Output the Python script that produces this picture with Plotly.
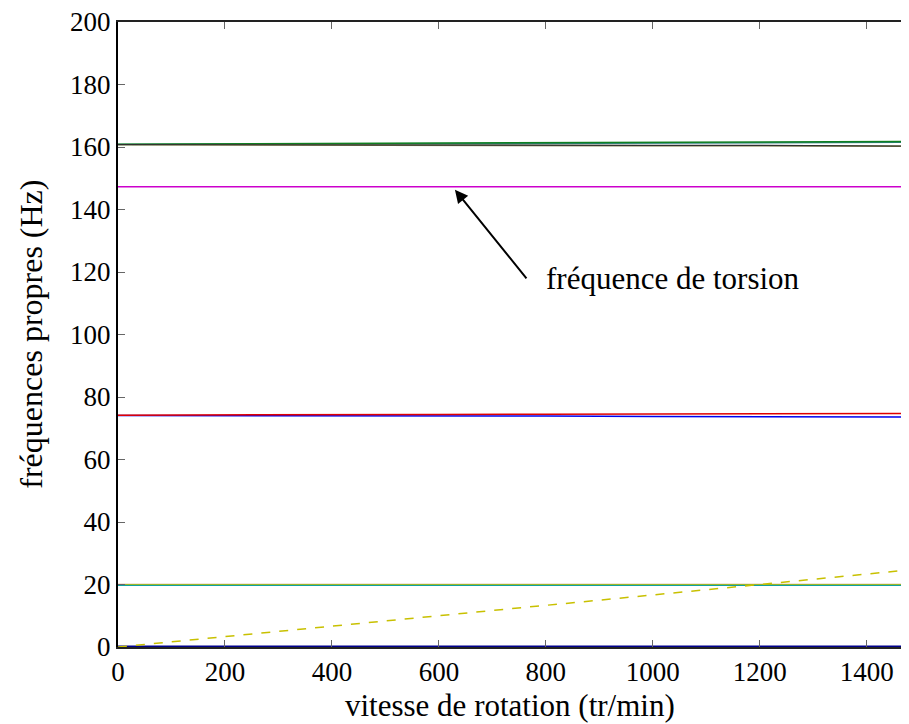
import plotly.graph_objects as go

# rotation speed (tr/min)
speed = [0, 200, 400, 600, 800, 1000, 1200, 1400, 1480]

# natural frequencies (Hz)
f_green_161 = [160.9, 161.0, 161.1, 161.3, 161.4, 161.5, 161.6, 161.7, 161.8]
f_teal_161 = [160.8, 160.9, 161.0, 161.1, 161.2, 161.3, 161.4, 161.5, 161.5]
f_dark_160 = [160.8, 160.7, 160.7, 160.6, 160.6, 160.5, 160.5, 160.4, 160.3]
f_olive_160 = [160.7, 160.6, 160.6, 160.5, 160.5, 160.4, 160.4, 160.3, 160.2]
f_torsion = [147.3, 147.3, 147.3, 147.3, 147.3, 147.3, 147.3, 147.3, 147.3]
f_red_74 = [74.2, 74.2, 74.3, 74.4, 74.5, 74.5, 74.6, 74.7, 74.7]
f_blue_74 = [74.1, 74.1, 74.0, 73.9, 73.9, 73.8, 73.7, 73.7, 73.6]
f_tan_20 = [20.0, 20.0, 20.0, 20.0, 20.0, 20.0, 20.0, 20.0, 20.0]
f_yellow_20 = [19.9, 19.9, 19.9, 19.9, 19.9, 19.9, 19.9, 19.9, 19.9]
f_teal_20 = [19.7, 19.7, 19.7, 19.7, 19.7, 19.7, 19.7, 19.7, 19.7]
f_zero = [0, 0, 0, 0, 0, 0, 0, 0, 0]

# rotation frequency line (dashed)
rot_speed = [0, 1480]
rot_freq = [0, 24.67]

x_ticks = [0, 200, 400, 600, 800, 1000, 1200, 1400]
y_ticks = [0, 20, 40, 60, 80, 100, 120, 140, 160, 180, 200]

series = [
    (f_teal_161, "#2a8080", 1.5),
    (f_green_161, "#108020", 1.5),
    (f_olive_160, "#7a7a45", 1.5),
    (f_dark_160, "#303030", 1.2),
    (f_torsion, "#cc00cc", 1.5),
    (f_blue_74, "#0000ee", 1.5),
    (f_red_74, "#e00000", 1.5),
    (f_tan_20, "#d09a70", 1.5),
    (f_yellow_20, "#c8c000", 1.5),
    (f_teal_20, "#10a0a0", 1.2),
    (f_zero, "#00008b", 3),
]

FONT = "Liberation Serif"

fig = go.Figure()
for ys, col, w in series:
    fig.add_trace(go.Scatter(x=speed, y=ys, mode="lines",
                             line=dict(color=col, width=w), showlegend=False))
fig.add_trace(go.Scatter(x=rot_speed, y=rot_freq, mode="lines",
                         line=dict(color="#c8c000", width=1.5, dash="dash"),
                         showlegend=False))

fig.add_annotation(x=630, y=146.3, ax=766, ay=117.5, xref="x", yref="y",
                   axref="x", ayref="y", text="", showarrow=True,
                   arrowhead=2, arrowsize=1.3, arrowwidth=2, arrowcolor="black")
fig.add_annotation(x=796, y=117.8, xref="x", yref="y", text="fréquence de torsion",
                   showarrow=False, xanchor="left", yanchor="middle",
                   font=dict(family=FONT, size=31, color="black"))

# axis titles (placed as annotations for precise positioning)
fig.add_annotation(x=0.4955, y=-0.093, xref="paper", yref="paper",
                   text="vitesse de rotation (tr/min)", showarrow=False,
                   xanchor="center", yanchor="middle",
                   font=dict(family=FONT, size=31, color="black"))
fig.add_annotation(x=-0.111, y=0.5, xref="paper", yref="paper",
                   text="fréquences propres (Hz)", showarrow=False, textangle=-90,
                   xanchor="center", yanchor="middle",
                   font=dict(family=FONT, size=32, color="black"))

fig.update_layout(
    width=901, height=716,
    margin=dict(l=110, r=0, t=14, b=77),
    plot_bgcolor="white", paper_bgcolor="white",
    font=dict(family=FONT, size=27, color="black"),
    xaxis=dict(range=[0, 1479], tickvals=x_ticks,
               ticks="inside", ticklen=7, tickcolor="#666", tickwidth=1,
               showline=True, linecolor="#222", linewidth=1.5, mirror="ticks",
               showgrid=False, zeroline=False, automargin=False,
               ticklabeloverflow="allow"),
    yaxis=dict(range=[0, 200], tickvals=y_ticks,
               ticks="inside", ticklen=7, tickcolor="#666", tickwidth=1,
               showline=True, linecolor="black", linewidth=2, mirror=False,
               showgrid=False, zeroline=False, automargin=False,
               ticklabeloverflow="allow"),
)

fig.write_html("out.html")
